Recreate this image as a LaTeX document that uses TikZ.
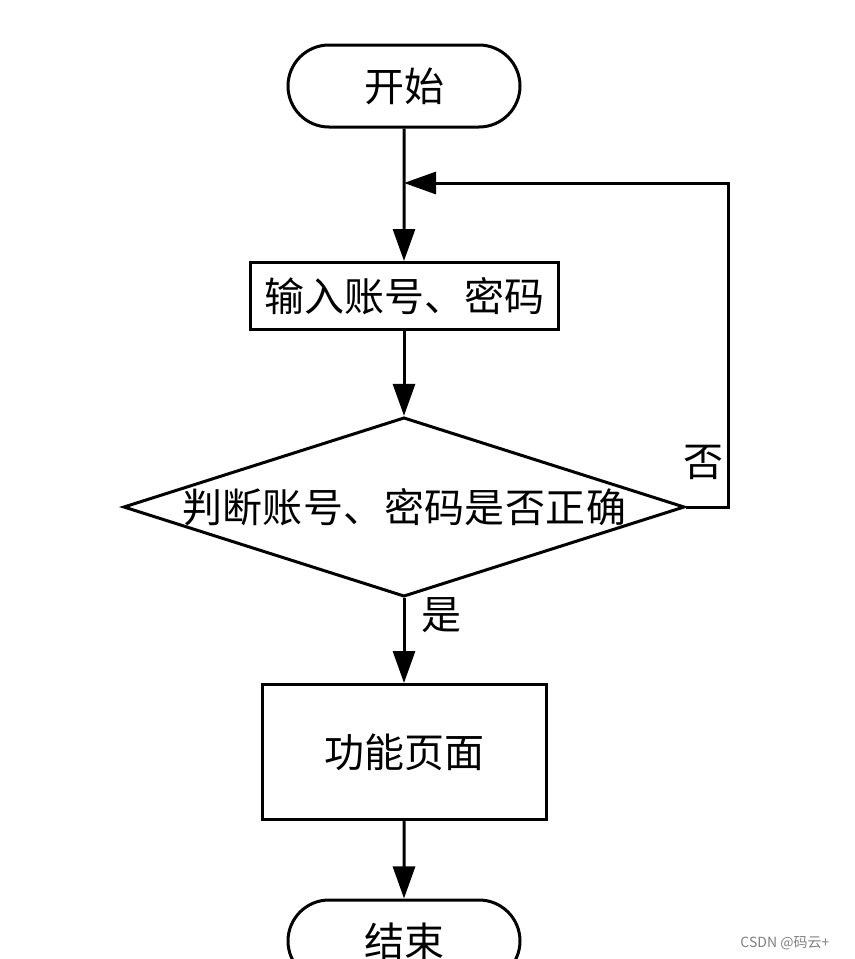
\documentclass[tikz,border=0pt]{standalone}
\usepackage{fontspec}
\setmainfont{Noto Sans CJK SC}
\usepackage{tikz}
\usetikzlibrary{arrows.meta,shapes.geometric,shapes.misc}
\tikzset{>={Triangle[width=11pt,length=16pt]}}
\tikzset{
  term/.style={draw, line width=1.5pt, rounded rectangle, minimum width=116pt, minimum height=41pt, inner sep=0pt},
  proc/.style={draw, line width=1.5pt, rectangle, inner sep=0pt},
  judgebox/.style={draw, line width=1.5pt, diamond, aspect=3.13, inner sep=0pt, minimum width=280pt, minimum height=89.5pt},
  flow/.style={->, line width=1.5pt},
}

\begin{document}
\begin{tikzpicture}[x=0.5pt, y=-0.5pt]

  \fontsize{20pt}{24pt}\selectfont

  \newcommand\XM{404}
  \newcommand\XLOOP{728}
  \newcommand\YLOOP{183}

  \useasboundingbox (0,0) rectangle (855,959);

  \node[term] (start) at (\XM, 86) {开始};
  \node[proc, minimum width=154pt, minimum height=33.5pt] (input) at (\XM, 296) {输入账号、密码};
  \node[judgebox] (judge) at (\XM, 507) {\addfontfeature{LetterSpace=1}判断账号、密码是否正确};
  \node[proc, minimum width=142pt, minimum height=67.5pt] (func) at (\XM, 752) {功能页面};
  \node[term] (stop) at (\XM, 941) {结束};

  \coordinate (merge) at (\XM, \YLOOP);
  \coordinate (loop) at (\XLOOP, \YLOOP);

  \draw[flow] (start) -- (input);
  \draw[flow] (input) -- (judge);
  \draw[flow] (judge.east) -| (loop) -- (merge);
  \draw[flow] (judge) -- (func);
  \draw[flow] (func) -- (stop);

  \node (no) at (703, 462) {否};
  \node (yes) at (441, 615) {是};

  \node[text=gray, font=\fontsize{7pt}{8pt}\selectfont, anchor=east] (mark) at (843, 943) {CSDN @码云+};

\end{tikzpicture}
\end{document}
